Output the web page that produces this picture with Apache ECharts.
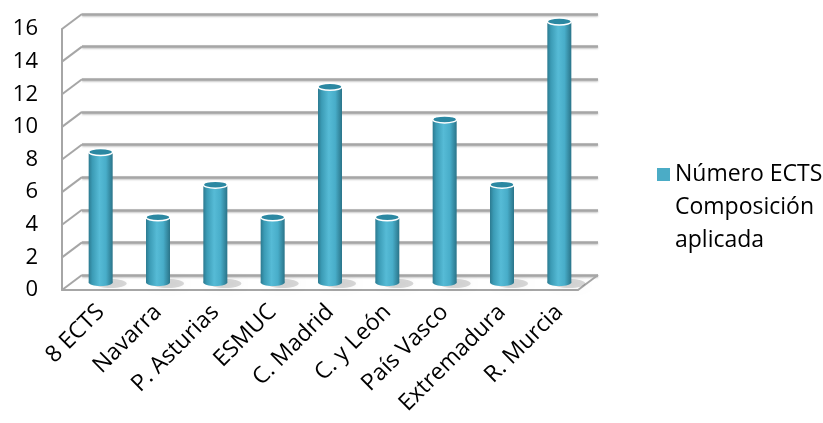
<!DOCTYPE html>
<html>
<head>
<meta charset="utf-8">
<script src="https://cdn.jsdelivr.net/npm/echarts@6/dist/echarts.min.js"></script>
<style>
html,body{margin:0;padding:0;background:#fff;}
#chart{width:823px;height:423px;}
</style>
</head>
<body>
<div id="chart"></div>
<script>
var categories = ['8 ECTS','Navarra','P. Asturias','ESMUC','C. Madrid','C. y León','País Vasco','Extremadura','R. Murcia'];
var values = [8, 4, 6, 4, 12, 4, 10, 6, 16];
var seriesName = 'Número ECTS\nComposición\naplicada';
var yTicks = [0, 2, 4, 6, 8, 10, 12, 14, 16];

var FONT = 'Open Sans';
var DX = 20, DY = 15; // depth offset of the 3D box
var gridLine = '#a6a6a6';

var chart = echarts.init(document.getElementById('chart'));

function cylinder(params, api) {
  var idx = api.value(0);
  var v = api.value(1);
  var top = api.coord([idx, v]);
  var bot = api.coord([idx, 0]);
  var w = 24, rx = w / 2, ry = 3.5;
  var cx = top[0];
  var grad = new echarts.graphic.LinearGradient(0, 0, 1, 0, [
    {offset: 0, color: '#2c7a90'},
    {offset: 0.15, color: '#3b9bb5'},
    {offset: 0.45, color: '#56bbd6'},
    {offset: 0.72, color: '#48adc9'},
    {offset: 1, color: '#2a7489'}
  ]);
  return {
    type: 'group',
    children: [
      {type: 'ellipse', shape: {cx: cx + 10, cy: bot[1] + 1, rx: rx + 4, ry: ry + 1},
        style: {fill: 'rgba(0,0,0,0.15)', shadowBlur: 6, shadowColor: 'rgba(0,0,0,0.3)'}},
      {type: 'ellipse', shape: {cx: cx, cy: bot[1], rx: rx, ry: ry}, style: {fill: grad}},
      {type: 'rect', shape: {x: cx - rx, y: top[1], width: w, height: bot[1] - top[1]}, style: {fill: grad}},
      {type: 'ellipse', shape: {cx: cx, cy: top[1], rx: rx, ry: ry},
        style: {fill: '#2b88a2', stroke: '#ffffff', lineWidth: 1.5}}
    ]
  };
}

function sideWall(params, api) {
  var v = api.value(0);
  var p = api.coord([0, v]);
  var x0 = params.coordSys.x;
  return {
    type: 'line',
    shape: {x1: x0, y1: p[1], x2: x0 + DX, y2: p[1] - DY},
    style: {stroke: gridLine, lineWidth: 2}
  };
}

function floorEdge(params, api) {
  var cs = params.coordSys;
  var y0 = api.coord([0, 0])[1];
  var xr = cs.x + cs.width;
  return {
    type: 'line',
    shape: {x1: xr, y1: y0, x2: xr + DX, y2: y0 - DY},
    style: {stroke: gridLine, lineWidth: 2}
  };
}

var option = {
  animation: false,
  textStyle: {fontFamily: FONT},
  legend: {
    data: [seriesName],
    left: 652,
    top: 87,
    orient: 'vertical',
    icon: 'rect',
    itemWidth: 13,
    itemHeight: 13,
    formatter: function (name) { return '\n\n' + name; },
    textStyle: {fontFamily: FONT, fontSize: 23, color: '#000', lineHeight: 33}
  },
  grid: [
    {left: 62, top: 29, width: 516, height: 261},           // front
    {left: 62 + DX, top: 29 - DY, width: 516, height: 261}, // back wall
    {left: 62 + DX / 2, top: 29 - DY / 2, width: 516, height: 261} // mid depth (bars)
  ],
  xAxis: [
    {gridIndex: 0, type: 'category', data: categories,
      axisLine: {show: true, lineStyle: {color: gridLine, width: 2}},
      axisTick: {show: false}, axisLabel: {show: false}, splitLine: {show: false}},
    {gridIndex: 1, type: 'category', data: categories, show: false},
    {gridIndex: 2, type: 'category', data: categories,
      axisLine: {show: false}, axisTick: {show: false},
      axisLabel: {interval: 0, rotate: 45, margin: 26, fontSize: 23, color: '#000', fontFamily: FONT}}
  ],
  yAxis: [
    {gridIndex: 0, type: 'value', min: 0, max: 16, interval: 2,
      axisLine: {show: true, lineStyle: {color: gridLine, width: 2}},
      axisTick: {show: false}, splitLine: {show: false},
      axisLabel: {margin: 24, fontSize: 22, color: '#000', fontFamily: FONT, padding: [6, 0, 0, 0]}},
    {gridIndex: 1, type: 'value', min: 0, max: 16, interval: 2,
      axisLine: {show: false}, axisTick: {show: false}, axisLabel: {show: false},
      splitLine: {show: true, lineStyle: {color: gridLine, width: 2.5, shadowColor: 'rgba(0,0,0,0.25)', shadowBlur: 2, shadowOffsetY: 1}}},
    {gridIndex: 2, type: 'value', min: 0, max: 16, interval: 2, show: false}
  ],
  series: [
    {type: 'custom', name: 'wall', xAxisIndex: 0, yAxisIndex: 0, silent: true,
      renderItem: sideWall, data: yTicks.map(function (t) { return [t]; }),
      encode: {y: 0}, z: 1},
    {type: 'custom', name: 'floor', xAxisIndex: 0, yAxisIndex: 0, silent: true,
      renderItem: floorEdge, data: [[0]], encode: {y: 0}, z: 1},
    {type: 'custom', name: seriesName, xAxisIndex: 2, yAxisIndex: 2,
      itemStyle: {color: '#4bacc6'},
      renderItem: cylinder,
      data: values.map(function (v, i) { return [i, v]; }),
      encode: {x: 0, y: 1}, z: 5}
  ]
};
chart.setOption(option);
</script>
</body>
</html>
